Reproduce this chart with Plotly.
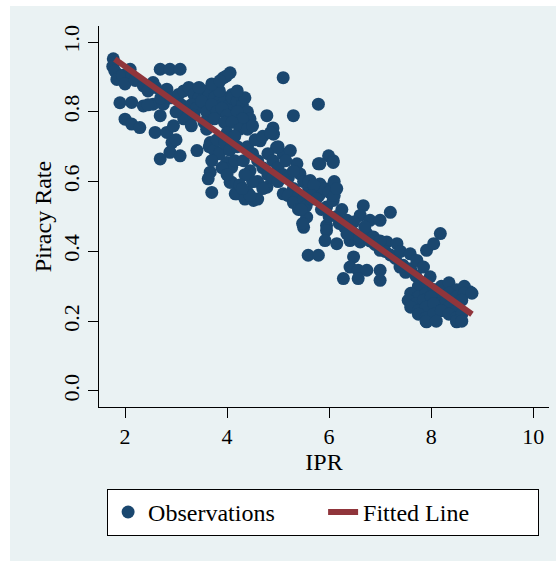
import plotly.graph_objects as go

# ---- observations (IPR, piracy rate), grouped by region ----
ipr_top_left = [1.77, 1.76, 1.80, 1.87, 1.84, 1.95, 2.10, 2.13, 2.00, 2.20,
                1.90, 2.13, 2.00, 2.13, 2.29, 2.36, 2.36]
rate_top_left = [0.952, 0.930, 0.917, 0.898, 0.893, 0.905, 0.922, 0.903, 0.880, 0.890,
                 0.826, 0.827, 0.779, 0.765, 0.755, 0.874, 0.817]

ipr_left = [2.55, 2.69, 2.88, 3.08, 2.82, 2.55, 2.75, 2.69, 2.59, 2.82,
            2.92, 2.88, 2.69, 3.08, 2.45, 2.60, 2.70, 2.45, 3.00, 2.95,
            2.90, 3.05]
rate_left = [0.884, 0.922, 0.922, 0.922, 0.865, 0.822, 0.822, 0.789, 0.741, 0.741,
             0.712, 0.684, 0.665, 0.674, 0.860, 0.870, 0.840, 0.820, 0.720, 0.760,
             0.840, 0.850]

ipr_upper_cluster = [3.15, 3.25, 3.35, 3.45, 3.55, 3.65, 3.75, 3.85, 3.95, 4.05,
                     3.10, 3.20, 3.30, 3.40, 3.50, 3.60, 3.70, 3.80, 3.90, 4.00,
                     3.15, 3.35, 3.55, 3.75, 3.95, 3.30, 3.60, 3.45, 3.00, 3.85,
                     4.10, 3.70, 3.93, 4.06, 3.99, 3.86]
rate_upper_cluster = [0.860, 0.870, 0.850, 0.840, 0.860, 0.850, 0.840, 0.830, 0.840, 0.820,
                      0.820, 0.800, 0.820, 0.810, 0.830, 0.800, 0.820, 0.800, 0.810, 0.790,
                      0.780, 0.790, 0.770, 0.780, 0.770, 0.760, 0.750, 0.870, 0.800, 0.860,
                      0.850, 0.880, 0.898, 0.912, 0.903, 0.889]

ipr_lower_left = [3.41, 3.67, 3.67, 3.63, 3.70, 3.99, 4.06, 4.16, 3.65, 3.75,
                  3.85, 3.70, 4.09, 4.09, 4.19, 3.80, 3.95, 3.90, 4.00, 4.15,
                  4.05, 4.20]
rate_lower_left = [0.689, 0.712, 0.627, 0.608, 0.569, 0.655, 0.598, 0.565, 0.700, 0.690,
                   0.680, 0.660, 0.641, 0.598, 0.565, 0.720, 0.710, 0.640, 0.620, 0.660,
                   0.690, 0.700]

ipr_upper_mid = [4.10, 4.20, 4.30, 4.40, 4.45, 4.20, 4.30, 4.10, 4.25, 4.40,
                 4.00, 4.15, 4.50, 4.35, 4.20, 4.78, 5.10, 5.30, 5.79, 4.90]
rate_upper_mid = [0.840, 0.830, 0.820, 0.800, 0.780, 0.800, 0.780, 0.770, 0.750, 0.750,
                  0.740, 0.730, 0.760, 0.840, 0.860, 0.789, 0.898, 0.789, 0.822, 0.754]

ipr_mid = [4.32, 4.45, 4.52, 4.65, 4.91, 4.97, 5.10, 5.24, 5.37, 5.43,
           5.63, 5.82, 6.08, 5.79, 5.99, 6.08, 4.78, 5.10, 5.43, 5.56,
           5.95, 6.08, 5.50, 5.95, 6.35]
rate_mid = [0.660, 0.631, 0.546, 0.717, 0.736, 0.698, 0.679, 0.689, 0.651, 0.622,
            0.603, 0.593, 0.589, 0.651, 0.674, 0.660, 0.584, 0.565, 0.527, 0.498,
            0.527, 0.546, 0.469, 0.474, 0.489]

ipr_mid_band = [4.40, 4.50, 4.60, 4.70, 4.80, 4.90, 5.00, 4.60, 4.70, 4.50,
                4.35, 4.80, 4.90, 5.00, 5.10, 5.20, 5.30, 5.20, 5.40, 5.30,
                4.55, 4.70, 5.00, 4.85, 5.15, 5.30, 5.50, 5.60, 5.70, 5.50,
                5.40, 5.55, 5.65, 5.80, 5.90, 6.00, 6.10, 5.85, 6.00, 4.60,
                4.40, 4.25, 4.35, 4.45, 4.30]
rate_mid_band = [0.700, 0.680, 0.660, 0.640, 0.620, 0.610, 0.600, 0.600, 0.580, 0.600,
                 0.620, 0.680, 0.660, 0.640, 0.620, 0.610, 0.580, 0.560, 0.560, 0.540,
                 0.720, 0.730, 0.700, 0.740, 0.660, 0.630, 0.600, 0.580, 0.570, 0.550,
                 0.520, 0.530, 0.550, 0.560, 0.580, 0.570, 0.560, 0.520, 0.500, 0.550,
                 0.570, 0.590, 0.550, 0.560, 0.580]

ipr_right_mid = [5.82, 6.08, 5.60, 5.70, 6.10, 5.65, 5.75, 6.15, 5.45, 5.48,
                 5.95, 5.92, 6.15, 6.41, 6.61, 6.67, 6.61, 6.48, 6.80, 7.00,
                 7.20, 6.74, 6.87, 7.00, 7.13, 7.33, 5.59, 5.79, 6.48, 6.41,
                 6.57, 6.74, 7.00, 7.00, 6.28, 6.57]
rate_right_mid = [0.651, 0.655, 0.600, 0.590, 0.600, 0.560, 0.550, 0.580, 0.520, 0.480,
                  0.460, 0.431, 0.422, 0.431, 0.427, 0.531, 0.503, 0.484, 0.489, 0.489,
                  0.512, 0.451, 0.441, 0.403, 0.427, 0.422, 0.389, 0.389, 0.384, 0.355,
                  0.346, 0.346, 0.346, 0.317, 0.322, 0.322]

ipr_right_band = [6.20, 6.30, 6.50, 6.60, 6.90, 7.10, 7.20, 7.30, 7.45, 7.50,
                  6.35, 6.15, 6.25, 6.70, 6.80, 7.00, 7.40, 7.60, 7.70, 7.80]
rate_right_band = [0.480, 0.470, 0.450, 0.440, 0.420, 0.400, 0.390, 0.380, 0.360, 0.340,
                   0.450, 0.500, 0.520, 0.470, 0.430, 0.430, 0.400, 0.350, 0.330, 0.310]

ipr_right = [7.39, 7.59, 7.72, 7.85, 7.98, 7.91, 8.05, 8.18, 8.76, 7.91, 8.50]
rate_right = [0.355, 0.393, 0.374, 0.355, 0.327, 0.403, 0.422, 0.451, 0.284, 0.198, 0.198]

ipr_bottom_cluster = [7.75, 7.90, 8.05, 8.20, 8.35, 8.50, 8.65,
                      7.60, 7.75, 7.90, 8.05, 8.20, 8.35, 8.50, 8.65, 8.80,
                      7.55, 7.70, 7.85, 8.00, 8.15, 8.30, 8.45, 8.60,
                      7.60, 7.75, 7.90, 8.05, 8.20, 8.35, 8.50,
                      7.75, 7.90, 8.05, 8.20, 8.35, 8.50, 8.60,
                      7.90, 8.10, 8.50, 8.60]
rate_bottom_cluster = [0.30, 0.31, 0.29, 0.30, 0.31, 0.29, 0.30,
                       0.28, 0.27, 0.28, 0.29, 0.27, 0.28, 0.27, 0.28, 0.28,
                       0.26, 0.25, 0.26, 0.27, 0.25, 0.26, 0.25, 0.26,
                       0.24, 0.23, 0.24, 0.25, 0.23, 0.24, 0.23,
                       0.22, 0.21, 0.22, 0.23, 0.22, 0.21, 0.22,
                       0.20, 0.20, 0.20, 0.20]

# ---- fitted line (end points) ----
fit_ipr = [1.80, 8.80]
fit_rate = [0.951, 0.220]

# ---- axis ticks ----
x_ticks = [2, 4, 6, 8, 10]
y_ticks = [0.0, 0.2, 0.4, 0.6, 0.8, 1.0]
y_tick_text = ["0.0", "0.2", "0.4", "0.6", "0.8", "1.0"]

ipr = (ipr_top_left + ipr_left + ipr_upper_cluster + ipr_lower_left + ipr_upper_mid
       + ipr_mid + ipr_mid_band + ipr_right_mid + ipr_right_band + ipr_right
       + ipr_bottom_cluster)
rate = (rate_top_left + rate_left + rate_upper_cluster + rate_lower_left + rate_upper_mid
        + rate_mid + rate_mid_band + rate_right_mid + rate_right_band + rate_right
        + rate_bottom_cluster)

NAVY = "#1a476f"
MAROON = "#90353b"
BG = "#eaf2f3"
FONT = "Liberation Serif"
TICK_SIZE = 22
TITLE_SIZE = 24
LEGEND_SIZE = 24

fig = go.Figure()
fig.add_trace(go.Scatter(
    x=ipr, y=rate, mode="markers", name="Observations",
    marker=dict(color=NAVY, size=13, line=dict(width=0)),
))
fig.add_trace(go.Scatter(
    x=fit_ipr, y=fit_rate, mode="lines", name="Fitted Line",
    line=dict(color=MAROON, width=6),
))

fig.update_layout(
    width=558, height=561,
    margin=dict(l=99, r=9, t=26, b=154),
    paper_bgcolor="white",
    plot_bgcolor="white",
    font=dict(family=FONT, size=TICK_SIZE, color="black"),
    showlegend=True,
    legend=dict(
        orientation="h", x=0.498, xanchor="center", y=-0.215, yanchor="top",
        bgcolor="white", bordercolor="black", borderwidth=1,
        font=dict(family=FONT, size=LEGEND_SIZE, color="black"),
        entrywidth=170, entrywidthmode="pixels",
    ),
    shapes=[dict(
        type="rect", xref="paper", yref="paper",
        x0=-0.1978, x1=1.0156, y0=-0.404, y1=1.0525,
        fillcolor=BG, line=dict(width=0), layer="below",
    )],
)

fig.update_xaxes(
    range=[1.49, 10.31], tickvals=x_ticks,
    ticks="outside", ticklen=10, tickcolor="black", tickwidth=1,
    showline=True, linecolor="black", linewidth=1,
    showgrid=False, zeroline=False,
    tickfont=dict(family=FONT, size=TICK_SIZE, color="black"),
    title=dict(text="IPR", font=dict(family=FONT, size=TITLE_SIZE, color="black"), standoff=2),
)
fig.update_yaxes(
    range=[-0.046, 1.046], tickvals=y_ticks, ticktext=y_tick_text, tickangle=-90,
    ticks="outside", ticklen=10, tickcolor="black", tickwidth=1,
    showline=True, linecolor="black", linewidth=1,
    showgrid=True, gridcolor=BG, gridwidth=1.5, zeroline=False,
    tickfont=dict(family=FONT, size=TICK_SIZE, color="black"),
    title=dict(text="Piracy Rate", font=dict(family=FONT, size=TITLE_SIZE, color="black"), standoff=0),
)

fig.write_html("out.html")
